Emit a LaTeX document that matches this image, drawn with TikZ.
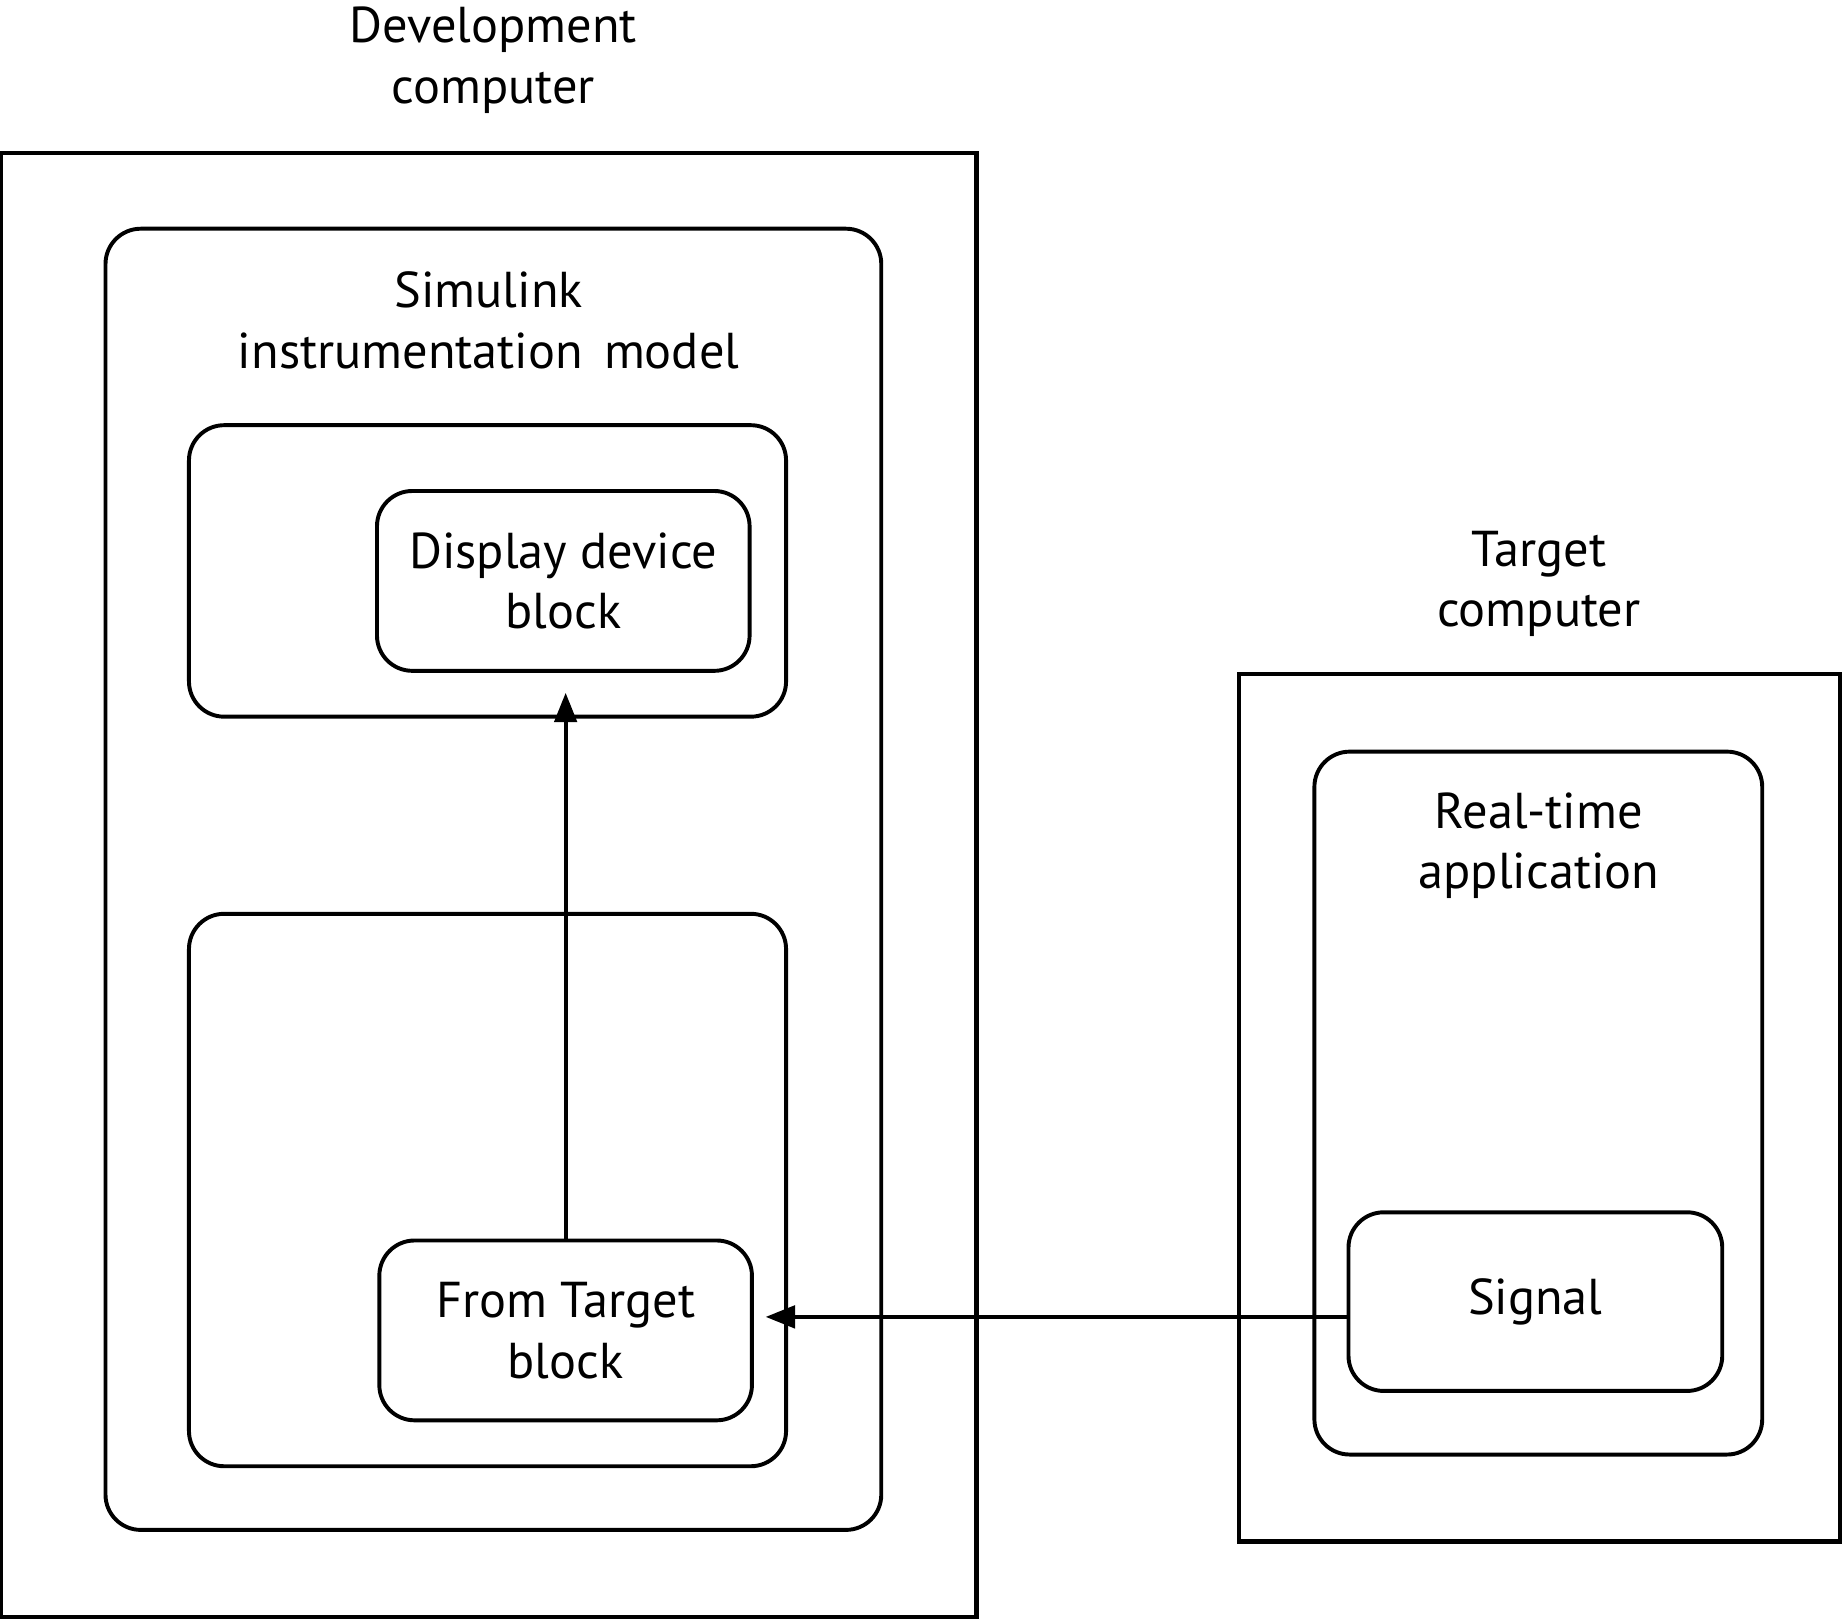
\documentclass[tikz,border=0pt]{standalone}
\usepackage{fontspec}
\setmainfont{PT Sans}
\usetikzlibrary{arrows.meta}
\begin{document}
\begin{tikzpicture}[x=0.01cm,y=-0.01cm,
  sq/.style={draw,line width=1.1pt,inner sep=0pt},
  rbox/.style={draw,line width=0.95pt,rounded corners=0.3cm,inner sep=0pt},
  lbl/.style={align=center,font=\fontsize{12.2}{14.7}\selectfont,inner sep=0pt},
  arr/.style={line width=1pt,-{Triangle[length=0.25cm,width=0.19cm]}}]
\useasboundingbox (0,0) rectangle (1568,1378);
% development computer
\node[sq,minimum width=8.30cm,minimum height=12.46cm] (dev) at (416,753.5) {};
\node[lbl] (devl) at (420,51) {Development\\computer};
\node[rbox,minimum width=6.60cm,minimum height=11.07cm] (sim) at (420,748.5) {};
\node[lbl] (siml) at (416,273) {Simulink\\instrumentation\hspace{0.15em} model};
\node[rbox,minimum width=5.08cm,minimum height=2.48cm] (up) at (415,486) {};
\node[rbox,minimum width=5.08cm,minimum height=4.70cm] (low) at (415,1013) {};
\node[rbox,lbl,minimum width=3.17cm,minimum height=1.53cm] (dd) at (479.5,494.5) {Display device\\block};
\node[rbox,lbl,minimum width=3.17cm,minimum height=1.53cm] (ft) at (481.5,1132.5) {From Target\\block};
% target computer
\node[lbl] (tgtl) at (1310,497) {Target\\computer};
\node[sq,minimum width=5.11cm,minimum height=7.38cm] (tgt) at (1310.5,943) {};
\node[rbox,minimum width=3.81cm,minimum height=5.98cm] (rt) at (1309.5,939) {};
\node[lbl] (rtl) at (1310,720) {Real-time\\application};
\node[rbox,lbl,minimum width=3.18cm,minimum height=1.52cm] (sig) at (1307,1108) {\raisebox{-0.03cm}{Signal}};
% connectors
\draw[arr,shorten >=0.17cm] (ft.north) -- (ft.north |- dd.south);
\draw[arr,shorten >=0.10cm] ([yshift=-0.13cm]sig.west) -- ([yshift=-0.13cm]sig.west -| ft.east);
\end{tikzpicture}
\end{document}
